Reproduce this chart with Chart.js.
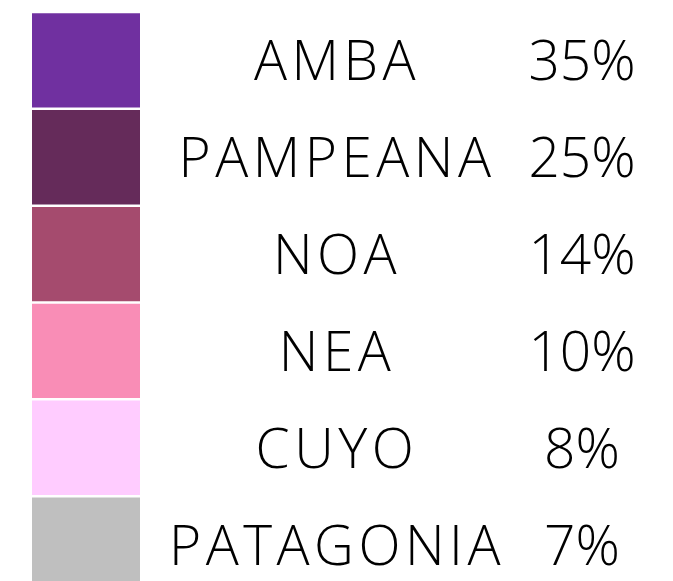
<!DOCTYPE html>
<html>
<head>
<meta charset="utf-8">
<script src="https://cdn.jsdelivr.net/npm/chart.js@4"></script>
<style>
  html, body { margin: 0; padding: 0; background: #fff; overflow: hidden; }
  #wrap { width: 673px; height: 593px; }
</style>
</head>
<body>
<div id="wrap"><canvas id="chart"></canvas></div>
<script>
const regions = ["AMBA", "PAMPEANA", "NOA", "NEA", "CUYO", "PATAGONIA"];
const shares = [35, 25, 14, 10, 8, 7];
const boxSize = [1, 1, 1, 1, 1, 1];
const colors = ["#7030A0", "#652B5A", "#A54B6E", "#F98DB6", "#FFCCFF", "#BFBFBF"];

// draws the name and the share next to each box
const rowText = {
  id: "rowText",
  afterDatasetsDraw(chart) {
    const ctx = chart.ctx;
    const y = chart.scales.y;
    ctx.save();
    ctx.fillStyle = "#000";
    ctx.textAlign = "center";
    ctx.textBaseline = "alphabetic";
    regions.forEach((r, i) => {
      const base = y.getPixelForValue(i) + 20;
      ctx.font = "350 55px 'Open Sans'";
      ctx.letterSpacing = "4.5px";
      ctx.fillText(r, 337, base);
      ctx.letterSpacing = "0px";
      ctx.fillText(shares[i] + "%", 582, base);
    });
    ctx.restore();
  }
};

new Chart(document.getElementById("chart"), {
  type: "bar",
  data: {
    labels: regions,
    datasets: [{
      data: boxSize,
      backgroundColor: colors,
      barPercentage: 0.974,
      categoryPercentage: 1
    }]
  },
  options: {
    indexAxis: "y",
    responsive: true,
    maintainAspectRatio: false,
    animation: false,
    layout: { padding: { left: 32, right: 533, top: 12, bottom: 0 } },
    scales: {
      x: { display: false, min: 0, max: 1 },
      y: { display: false }
    },
    plugins: {
      legend: { display: false },
      tooltip: { enabled: false }
    }
  },
  plugins: [rowText]
});
</script>
</body>
</html>
